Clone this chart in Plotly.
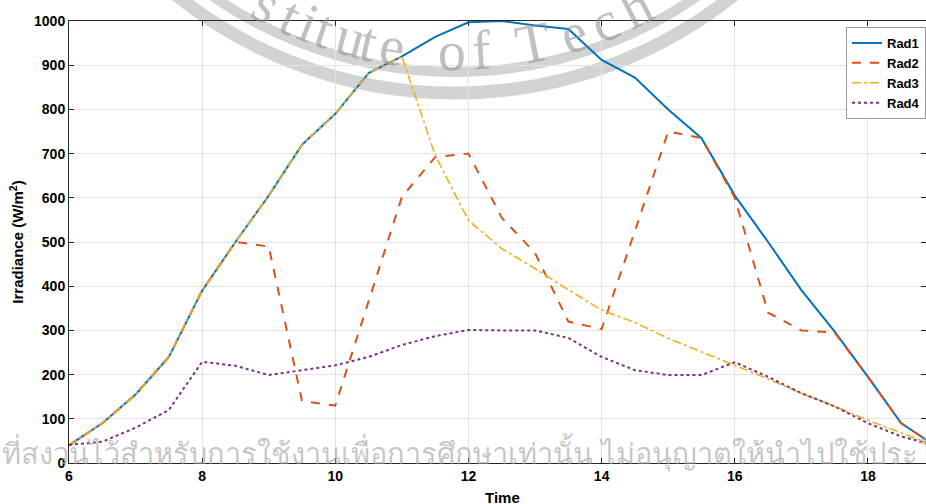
import math
import plotly.graph_objects as go

# ---------------- data ----------------
time = [6, 6.5, 7, 7.5, 8, 8.5, 9, 9.5, 10, 10.5, 11, 11.5, 12, 12.5, 13,
        13.5, 14, 14.5, 15, 15.5, 16, 16.5, 17, 17.5, 18, 18.5, 19]
rad1 = [40, 90, 155, 240, 390, 500, 605, 720, 790, 882, 920, 964, 997, 1000, 990,
        982, 912, 872, 800, 735, 605, 500, 391, 297, 195, 90, 40]
rad2 = [40, 90, 155, 240, 390, 500, 490, 140, 130, 365, 602, 692, 700, 555, 475,
        320, 303, 525, 750, 735, 600, 340, 300, 295, 195, 90, 40]
rad3 = [40, 90, 155, 240, 390, 500, 605, 720, 790, 882, 920, 696, 549, 485, 440,
        392, 346, 318, 282, 252, 221, 190, 158, 128, 97, 68, 40]
rad4 = [41, 48, 80, 120, 229, 220, 199, 210, 221, 240, 267, 287, 301, 300, 300,
        283, 240, 210, 199, 199, 228, 195, 158, 128, 90, 60, 40]
series_names = ["Rad1", "Rad2", "Rad3", "Rad4"]
x_ticks = [6, 8, 10, 12, 14, 16, 18]
y_ticks = list(range(0, 1001, 100))

colors = ["#0072BD", "#D95319", "#EDB120", "#7E2F8E"]
dashes = ["solid", "dash", "dashdot", "dot"]
widths = [2, 2, 1.6, 2]

W, H = 926, 504
ML, MR, MT, MB = 69, 0, 21, 41
PW, PH = W - ML - MR, H - MT - MB
px_per_hour = 66.58
x_max = 6 + PW / px_per_hour

fig = go.Figure()
for name, ys, c, d, w in zip(series_names, [rad1, rad2, rad3, rad4], colors, dashes, widths):
    fig.add_trace(go.Scatter(x=time, y=ys, mode="lines", name=name,
                             line=dict(color=c, dash=d, width=w)))

def px2paper(px, py):
    return (px - ML) / PW, (H - MB - py) / PH

shapes = []
# watermark seal bands
cx, cy = 455, -353
for R, lw in [(446, 13), (425, 10)]:
    x0, y0 = px2paper(cx - R, cy - R)
    x1, y1 = px2paper(cx + R, cy + R)
    shapes.append(dict(type="circle", xref="paper", yref="paper",
                       x0=x0, x1=x1, y0=y1, y1=y0,
                       line=dict(color="rgba(200,200,200,0.8)", width=lw),
                       fillcolor="rgba(0,0,0,0)", layer="between"))

annotations = []
# curved watermark letters
letters = "stitute of Tech"
letter_x = [267, 291, 309, 325, 351, 369, 392, None, 452, 481, None, 533, 573, 604, 636]
Rt = 398
for ch, lx in zip(letters, letter_x):
    if lx is None:
        continue
    dx = lx - cx
    ang = math.asin(dx / Rt)
    ly = cy + Rt * math.cos(ang) + 6
    ax_, ay_ = px2paper(lx, ly)
    annotations.append(dict(text=ch, x=ax_, y=ay_, xref="paper", yref="paper",
                            showarrow=False, textangle=-math.degrees(ang),
                            font=dict(family="Liberation Serif", size=56,
                                      color="rgba(140,140,140,0.55)"),
                            xanchor="center", yanchor="middle"))

# thai watermark line
tx, ty = px2paper(0, 452)
annotations.append(dict(text="ที่สงวนไว้สำหรับการใช้งานเพื่อการศึกษาเท่านั้น ไม่อนุญาตให้นำไปใช้ประโยชน์",
                        x=tx, y=ty, xref="paper", yref="paper", showarrow=False,
                        xanchor="left", yanchor="middle",
                        font=dict(family="Noto Sans", size=29, color="rgba(160,160,160,0.6)")))

# x axis title
tx, ty = px2paper(502, 497)
annotations.append(dict(text="Time", x=tx, y=ty, xref="paper", yref="paper", showarrow=False,
                        xanchor="center", yanchor="middle",
                        font=dict(family="Liberation Sans", size=15, color="#000", weight="bold")))

axis_common = dict(showgrid=True, gridcolor="#e3e3e3", gridwidth=1,
                   showline=True, linecolor="#262626", linewidth=1, mirror="ticks",
                   ticks="inside", ticklen=5, tickcolor="#262626", zeroline=False,
                   tickfont=dict(family="Liberation Sans", size=14, color="#000", weight="bold"))

fig.update_layout(
    width=W, height=H,
    margin=dict(l=ML, r=MR, t=MT, b=MB),
    paper_bgcolor="white", plot_bgcolor="white",
    xaxis=dict(range=[6, x_max], tickvals=x_ticks, **axis_common),
    yaxis=dict(range=[0, 1000], tickvals=y_ticks,
               title=dict(text="Irradiance (W/m<sup>2</sup>)", standoff=6,
                          font=dict(family="Liberation Sans", size=15, color="#000", weight="bold")),
               **axis_common),
    legend=dict(x=1, y=(H - MB - 27) / PH, xanchor="right", yanchor="top",
                bgcolor="white", bordercolor="#9a9a9a", borderwidth=1,
                font=dict(family="Liberation Sans", size=13, color="#000", weight="bold"),
                itemwidth=30, tracegroupgap=0),
    shapes=shapes,
    annotations=annotations,
    showlegend=True,
)

fig.write_html("out.html")
